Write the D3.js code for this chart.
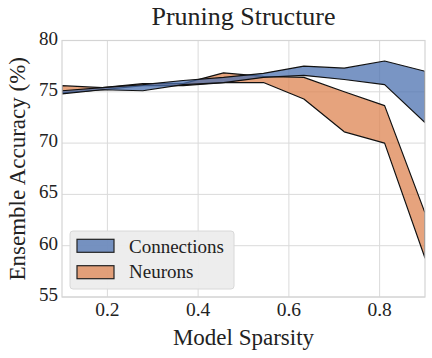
<!DOCTYPE html>
<html>
<head>
<meta charset="utf-8">
<script src="https://cdn.jsdelivr.net/npm/d3@7"></script>
<style>
  body { margin: 0; background: #fff; }
</style>
</head>
<body>
<div id="chart"></div>
<script>
var width = 432,
  height = 358;

var font = "'Liberation Serif', 'Times New Roman', Times, serif";

// sparsity levels (linspace 0.1 .. 0.9)
var sparsity = [0.1, 0.189, 0.278, 0.367, 0.456, 0.544, 0.633, 0.722, 0.811, 0.9];

// min / max accuracy for each pruning structure
var connLow  = [74.8, 75.2, 75.1, 75.7, 75.9, 76.4, 76.6, 76.2, 75.7, 72.0];
var connHigh = [75.1, 75.4, 75.7, 76.1, 76.4, 76.8, 77.5, 77.3, 78.0, 77.0];
var neurLow  = [74.9, 75.2, 75.6, 75.6, 75.9, 75.9, 74.3, 71.1, 70.0, 58.8];
var neurHigh = [75.6, 75.4, 75.8, 75.8, 76.85, 76.5, 76.4, 75.0, 73.65, 63.2];

var xTicks = [0.2, 0.4, 0.6, 0.8];
var yTicks = [55, 60, 65, 70, 75, 80];

var margin = {left: 62, right: 7, top: 40.5, bottom: 61};

var x = d3.scaleLinear()
  .domain([0.1, 0.9])
  .range([margin.left, width - margin.right]);

var y = d3.scaleLinear()
  .domain([55, 80])
  .range([height - margin.bottom, margin.top]);

var svg = d3.select("#chart").append("svg")
  .attr("width", width)
  .attr("height", height)
  .style("font-family", font);

// grid
var grid = svg.append("g");
grid.selectAll(".gx").data(xTicks).enter().append("line")
  .attr("x1", function(d) { return x(d); })
  .attr("x2", function(d) { return x(d); })
  .attr("y1", y(55)).attr("y2", y(80))
  .attr("stroke", "#dadada").attr("stroke-width", 1);
grid.selectAll(".gy").data(yTicks).enter().append("line")
  .attr("x1", x(0.1)).attr("x2", x(0.9))
  .attr("y1", function(d) { return y(d); })
  .attr("y2", function(d) { return y(d); })
  .attr("stroke", "#dadada").attr("stroke-width", 1);

// bands
var series = [
  {name: "Neurons", low: neurLow, high: neurHigh, color: "#dd8452"},
  {name: "Connections", low: connLow, high: connHigh, color: "#4c72b0"}
];

var area = d3.area()
  .x(function(d) { return x(d.x); })
  .y0(function(d) { return y(d.lo); })
  .y1(function(d) { return y(d.hi); });

svg.append("clipPath").attr("id", "clip").append("rect")
  .attr("x", x(0.1)).attr("y", y(80))
  .attr("width", x(0.9) - x(0.1)).attr("height", y(55) - y(80));

svg.append("g").attr("clip-path", "url(#clip)")
  .selectAll("path").data(series).enter().append("path")
  .attr("d", function(s) {
    return area(sparsity.map(function(v, i) {
      return {x: v, lo: s.low[i], hi: s.high[i]};
    }));
  })
  .attr("fill", function(s) { return s.color; })
  .attr("fill-opacity", 0.75)
  .attr("stroke", "#111")
  .attr("stroke-width", 1.2)
  .attr("stroke-linejoin", "round");

// frame
svg.append("rect")
  .attr("x", x(0.1)).attr("y", y(80))
  .attr("width", x(0.9) - x(0.1)).attr("height", y(55) - y(80))
  .attr("fill", "none").attr("stroke", "#d4d4d4").attr("stroke-width", 1.2);

// tick labels
svg.selectAll(".xt").data(xTicks).enter().append("text")
  .attr("x", function(d) { return x(d); })
  .attr("y", height - margin.bottom + 19)
  .attr("text-anchor", "middle")
  .attr("fill", "#222")
  .style("font-size", "19.5px")
  .text(function(d) { return d.toFixed(1); });

svg.selectAll(".yt").data(yTicks).enter().append("text")
  .attr("x", margin.left - 4)
  .attr("y", function(d) { return y(d) + 4; })
  .attr("text-anchor", "end")
  .attr("fill", "#222")
  .style("font-size", "19px")
  .text(function(d) { return d; });

// titles
svg.append("text")
  .attr("x", (x(0.1) + x(0.9)) / 2).attr("y", 25)
  .attr("text-anchor", "middle")
  .attr("fill", "#222")
  .style("font-size", "26px")
  .text("Pruning Structure");

svg.append("text")
  .attr("x", (x(0.1) + x(0.9)) / 2).attr("y", 345)
  .attr("text-anchor", "middle")
  .attr("fill", "#222")
  .style("font-size", "23px")
  .text("Model Sparsity");

svg.append("text")
  .attr("transform", "translate(25," + ((y(55) + y(80)) / 2) + ") rotate(-90)")
  .attr("text-anchor", "middle")
  .attr("fill", "#222")
  .style("font-size", "23px")
  .text("Ensemble Accuracy (%)");

// legend
var legend = svg.append("g").attr("transform", "translate(70,231)");
legend.append("rect")
  .attr("width", 164).attr("height", 58)
  .attr("rx", 3)
  .attr("fill", "#ececec").attr("fill-opacity", 0.95)
  .attr("stroke", "#d8d8d8");

var legendItems = [series[1], series[0]];
legendItems.forEach(function(s, i) {
  legend.append("rect")
    .attr("x", 7).attr("y", 8.3 + i * 26.4)
    .attr("width", 37).attr("height", 13)
    .attr("fill", s.color).attr("fill-opacity", 0.75)
    .attr("stroke", "#222").attr("stroke-width", 1.2);
  legend.append("text")
    .attr("x", 59).attr("y", 21.5 + i * 25.8)
    .attr("fill", "#222")
    .style("font-size", "19px")
    .text(s.name);
});
</script>
</body>
</html>
